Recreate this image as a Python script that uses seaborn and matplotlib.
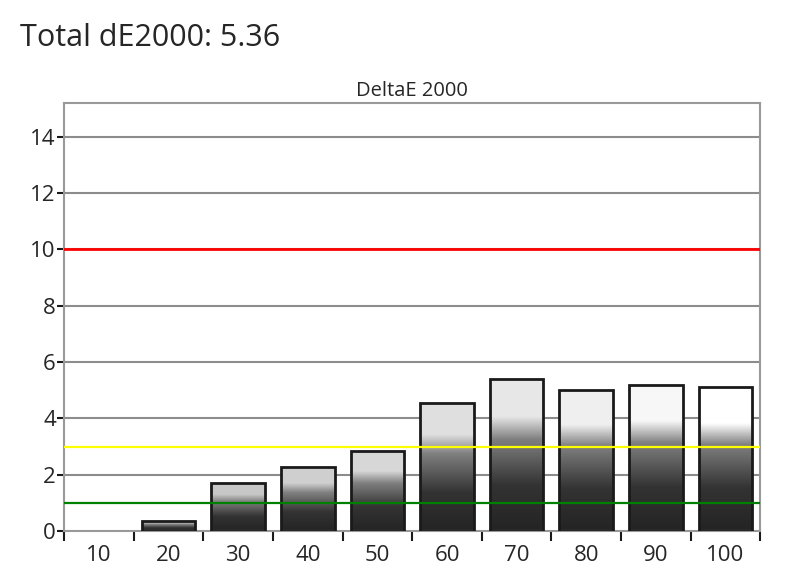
import numpy as np
import pandas as pd
import matplotlib
matplotlib.use("Agg")
import matplotlib.pyplot as plt
from matplotlib.colors import LinearSegmentedColormap
import seaborn as sns

# Grayscale levels measured and their DeltaE 2000 values
levels = ["10", "20", "30", "40", "50", "60", "70", "80", "90", "100"]
delta_e = [0.0, 0.38, 1.71, 2.27, 2.83, 4.56, 5.41, 5.01, 5.19, 5.10]
total_de = 5.36

# reference thresholds
limit_values = [10, 3, 1]
limit_colors = ["#ff0000", "#ffff00", "#008000"]

df = pd.DataFrame({"level": levels, "de": delta_e})

sns.set_theme(style="white")
plt.rcParams["font.family"] = ["Open Sans", "DejaVu Sans"]

fig = plt.figure(figsize=(7.92, 5.87), dpi=100)
ax = fig.add_axes([0.081, 0.095, 0.879, 0.73])

sns.barplot(data=df, x="level", y="de", ax=ax, width=0.77,
            color="white", edgecolor="#1a1a1a", linewidth=2, zorder=3)

# gradient fill for each bar: dark at the base, lighter towards the top
for i, patch in enumerate(ax.patches):
    h = patch.get_height()
    if h <= 0:
        patch.set_visible(False)
        continue
    top = 0.72 + 0.28 * (i / (len(levels) - 1))
    cmap = LinearSegmentedColormap.from_list(
        "g", [(0.0, (0.14,) * 3), (0.3, (0.2,) * 3), (0.6, (0.5,) * 3),
              (0.75, (top,) * 3), (1.0, (top,) * 3)])
    grad = np.linspace(0, 1, 256).reshape(-1, 1)
    x0 = patch.get_x()
    w = patch.get_width()
    im = ax.imshow(grad, cmap=cmap, vmin=0, vmax=1, origin="lower",
                   extent=[x0, x0 + w, 0, h], aspect="auto", zorder=2)
    im.set_clip_path(patch)
    patch.set_facecolor("none")
ax.set_aspect("auto")
ax.set_xlim(-0.5, len(levels) - 0.5)
ax.set_ylim(0, 15.2)

# gridlines and thresholds
ax.set_yticks(range(0, 15, 2))
for y in range(2, 15, 2):
    ax.axhline(y, color="#8c8c8c", lw=1.5, zorder=1)
for val, col in zip(limit_values, limit_colors):
    ax.axhline(val, color=col, lw=2 if val == 10 else 1.6, zorder=4)

# x ticks at category boundaries, labels in the middle
ax.set_xticks(np.arange(len(levels)))
ax.set_xticklabels(levels)
ax.set_xticks(np.arange(-0.5, len(levels), 1), minor=True)
ax.tick_params(axis="x", which="major", length=0, labelsize=16, pad=10)
ax.tick_params(axis="x", which="minor", direction="out", length=7, width=1.5,
               color="#1a1a1a", bottom=True)
ax.tick_params(axis="y", direction="out", length=5, width=1.5, color="#1a1a1a",
               labelsize=16, pad=1, left=True)

for s in ax.spines.values():
    s.set_color("#999999")
    s.set_linewidth(1.5)

ax.set_xlabel("")
ax.set_ylabel("")
ax.set_title("DeltaE 2000", fontsize=14.5, pad=5)

fig.text(0.025, 0.91, f"Total dE2000: {total_de}", fontsize=22, ha="left", va="bottom")

fig.savefig("out.png", dpi=100)
